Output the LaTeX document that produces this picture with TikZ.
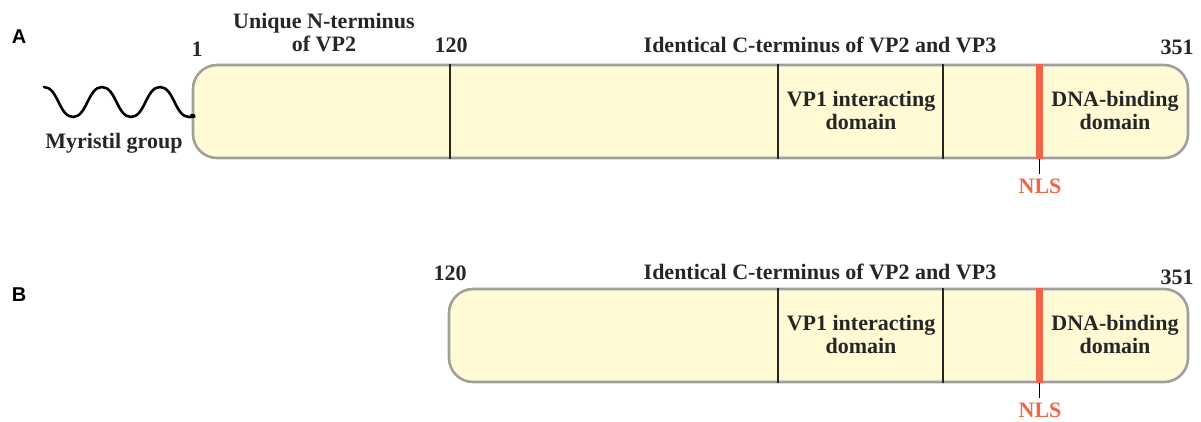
\documentclass[tikz,border=0pt]{standalone}
\usepackage{fontspec}
\setmainfont{Liberation Serif}
\setsansfont{Liberation Sans}
\begin{document}
\begin{tikzpicture}[x=1pt,y=-1pt,
  protein/.style={draw=gray!75,line width=2.6pt,fill=yellowbg,rounded corners=24pt,
    minimum height=93pt,inner sep=0pt},
  divider/.style={line width=1.4pt,draw=black!85},
  nlsbar/.style={line width=7pt,draw=nlsred},
  lbl/.style={font=\fontsize{22}{23}\selectfont\bfseries,text=black!85,inner sep=0pt,align=center},
  panel/.style={font=\fontsize{20}{22}\selectfont\sffamily\bfseries,inner sep=0pt},
  nlstxt/.style={font=\fontsize{22}{23}\selectfont\bfseries,text=nlsred,inner sep=0pt}]
\definecolor{yellowbg}{HTML}{FFFAD4}
\definecolor{nlsred}{HTML}{F26548}
\useasboundingbox (0,0) rectangle (1201,421);

% ---- panel A: VP2 ----
\node[panel] (pA) at (19,37) {A};
\node[protein,minimum width=995pt] (boxA) at (690.5,111.5) {};
\draw[divider] (450,0 |- boxA.north) -- (450,0 |- boxA.south);
\draw[divider] (778,0 |- boxA.north) -- (778,0 |- boxA.south);
\draw[divider] (943,0 |- boxA.north) -- (943,0 |- boxA.south);
\draw[nlsbar] (1039,0 |- boxA.north) -- (1039,0 |- boxA.south);
\coordinate (nlsA) at (1039,174);
\draw[line width=1pt] (1039,0 |- boxA.south) -- (nlsA);
\node[nlstxt] (nlsAt) at (1040,186) {NLS};

% myristoyl tail
\coordinate (tailA) at (44,87);
\draw[line width=2.6pt,line cap=round]
  (tailA) \foreach \k in {0,1} {
    .. controls ++(14,0) and ++(-14,0) .. ++(29,30)
    .. controls ++(14,0) and ++(-14,0) .. ++(29,-30) }
  .. controls ++(14,0) and ++(-14,0) .. ++(29,30)
  .. controls ++(12,0) and ++(-3,-4) .. (boxA.west |- 0,117);
\node[lbl] (myr) at (114,143) {Myristil group};

\node[lbl] (one) at (197,49) {1};
\node[lbl] (nterm) at (324,33) {Unique N-terminus\\of VP2};
\node[lbl] (a120) at (451,45) {120};
\node[lbl] (cterA) at (820,45) {Identical C-terminus of VP2 and VP3};
\node[lbl] (a351) at (1177,47) {351};
\node[lbl] (vp1A) at (861,110) {VP1 interacting\\domain};
\node[lbl] (dnaA) at (1115,110) {DNA-binding\\domain};

% ---- panel B: VP3 ----
\node[panel] (pB) at (19,295) {B};
\node[protein,minimum width=739pt] (boxB) at (818.5,335.5) {};
\draw[divider] (778,0 |- boxB.north) -- (778,0 |- boxB.south);
\draw[divider] (943,0 |- boxB.north) -- (943,0 |- boxB.south);
\draw[nlsbar] (1039,0 |- boxB.north) -- (1039,0 |- boxB.south);
\coordinate (nlsB) at (1039,398);
\draw[line width=1pt] (1039,0 |- boxB.south) -- (nlsB);
\node[nlstxt] (nlsBt) at (1040,410) {NLS};

\node[lbl] (b120) at (450,273) {120};
\node[lbl] (cterB) at (820,272) {Identical C-terminus of VP2 and VP3};
\node[lbl] (b351) at (1177,277) {351};
\node[lbl] (vp1B) at (861,334) {VP1 interacting\\domain};
\node[lbl] (dnaB) at (1115,334) {DNA-binding\\domain};
\end{tikzpicture}
\end{document}
